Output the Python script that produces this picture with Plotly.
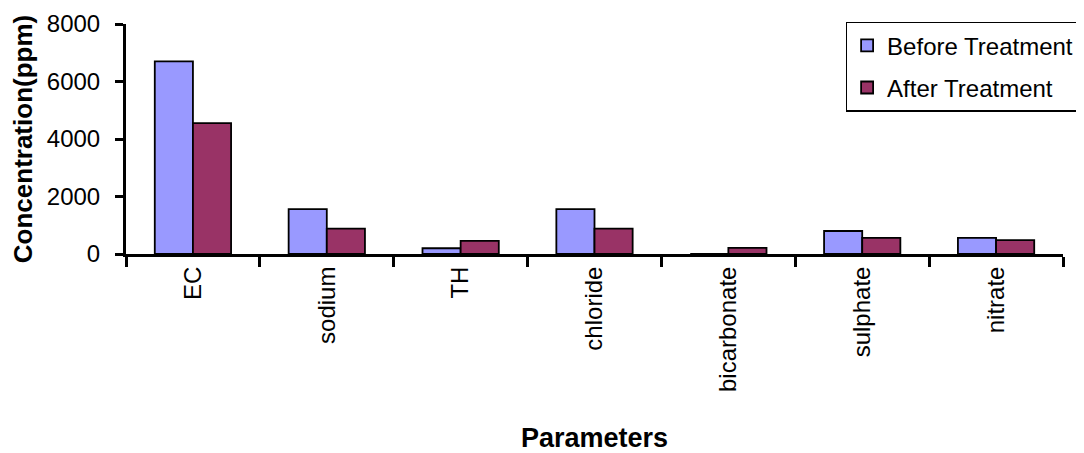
import plotly.graph_objects as go

categories = ["EC", "sodium", "TH", "chloride", "bicarbonate", "sulphate", "nitrate"]
before_treatment = [6700, 1560, 200, 1560, 0, 800, 560]
after_treatment = [4550, 880, 460, 880, 210, 560, 480]
y_ticks = [0, 2000, 4000, 6000, 8000]

FONT = "Liberation Sans, Arial, sans-serif"

fig = go.Figure()
fig.add_trace(go.Bar(
    x=categories, y=before_treatment, name="Before Treatment", legendgroup="before",
    marker=dict(color="#9999FF", line=dict(color="black", width=1.8)),
))
fig.add_trace(go.Bar(
    x=categories, y=after_treatment, name="After Treatment", legendgroup="after",
    marker=dict(color="#993366", line=dict(color="black", width=1.8)),
))

# page body has an 8px margin, so the figure is 8px smaller and margins compensate
fig.update_layout(
    width=1076, height=445,
    margin=dict(l=118, r=21, t=16, b=199, autoexpand=False),
    paper_bgcolor="white", plot_bgcolor="white",
    barmode="group", bargap=0.43, bargroupgap=0,
    font=dict(family=FONT, color="black", size=24),
    showlegend=True,
    legend=dict(
        x=0.768, y=1.01, xanchor="left", yanchor="top",
        bgcolor="white", bordercolor="black", borderwidth=1.5,
        font=dict(family=FONT, size=24, color="black"),
        tracegroupgap=8,
        itemclick=False, itemdoubleclick=False,
    ),
)

fig.update_xaxes(
    type="category", tickangle=-90, tickson="boundaries",
    ticks="outside", ticklen=10, tickwidth=3, tickcolor="black",
    showline=True, linecolor="black", linewidth=3,
    showgrid=False, zeroline=False, automargin=False,
    tickfont=dict(family=FONT, size=24, color="black"),
    title=dict(text="<b>Parameters</b>", font=dict(family=FONT, size=27, color="black"), standoff=38),
)
fig.update_yaxes(
    range=[0, 8000], tickvals=y_ticks, ticktext=[str(v) for v in y_ticks],
    ticks="outside", ticklen=8, tickwidth=3, tickcolor="black",
    showline=True, linecolor="black", linewidth=3,
    showgrid=False, zeroline=False, automargin=False,
    ticklabelstandoff=10,
    tickfont=dict(family=FONT, size=24, color="black"),
    title=dict(text="<b>Concentration(ppm)</b>", font=dict(family=FONT, size=26, color="black"), standoff=8),
)

fig.write_html("out.html")
